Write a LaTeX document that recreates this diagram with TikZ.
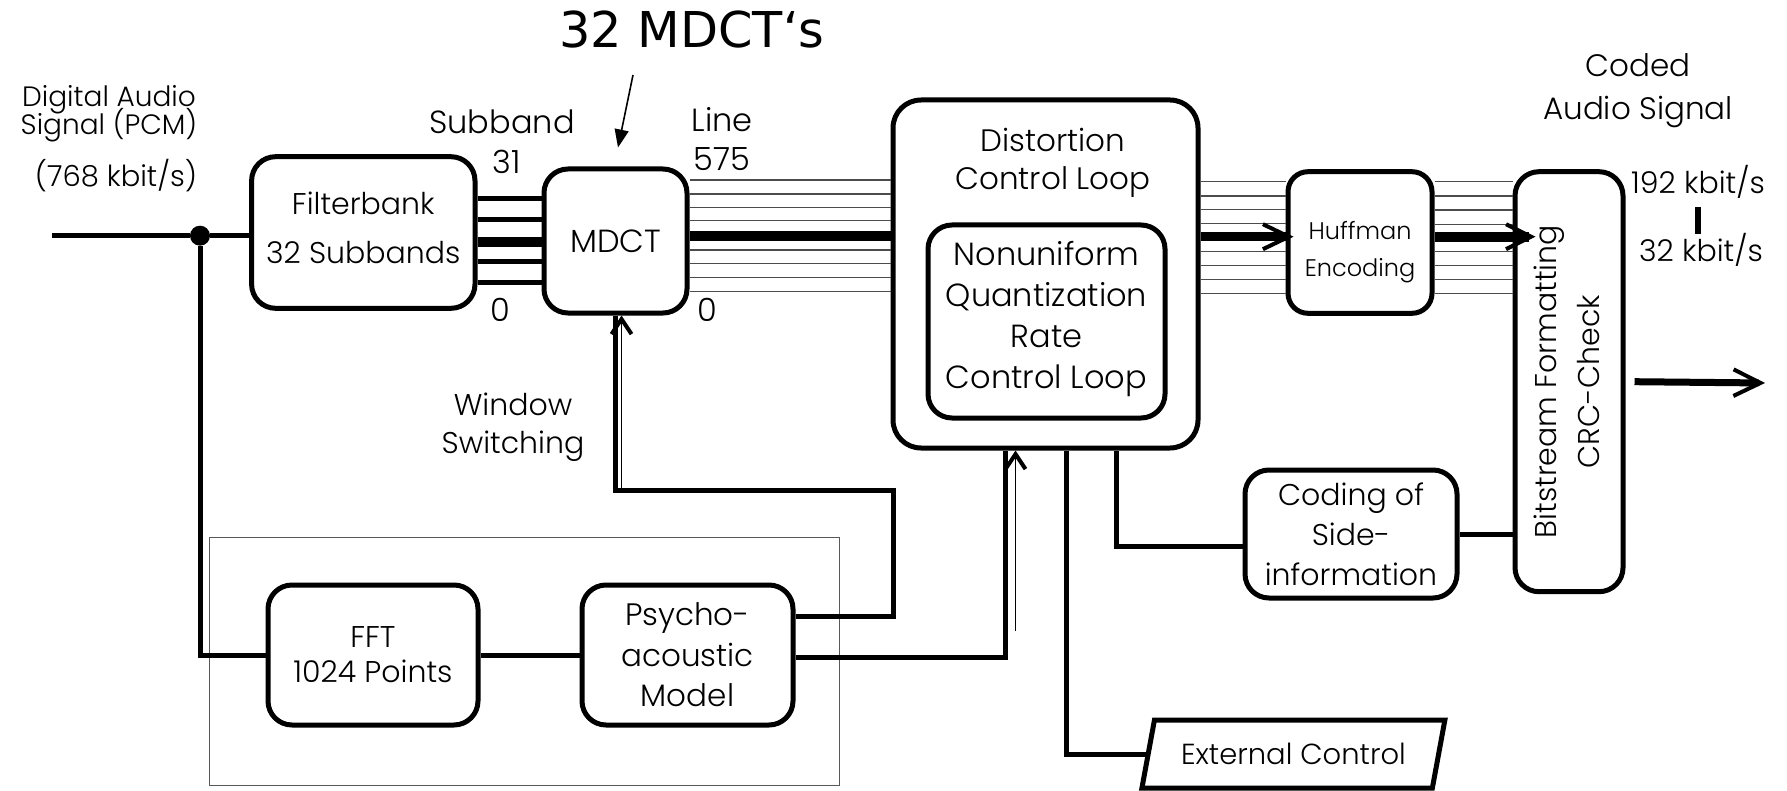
\documentclass[tikz,border=0pt]{standalone}
\usepackage{fontspec}
\setmainfont{Poppins Light}
\newfontfamily\titlefont{DejaVu Sans}
\usetikzlibrary{arrows.meta,calc,shapes.geometric}
\newcommand\fs[2]{\fontsize{#1}{#2}\selectfont\lineskiplimit=-30pt\relax}
% invisible struts that pad a text block below its last line or above its first
\newcommand\padb[1]{\rule[-#1]{0pt}{#1}}
\newcommand\padt[1]{\rule{0pt}{#1}}
\tikzset{
  box/.style={draw, line width=2.5pt, rounded corners=12pt, inner sep=0pt, align=center},
  wire/.style={line width=2.5pt},
  fine/.style={line width=0.75pt, black!70},
  lbl/.style={inner sep=0pt, align=center},
  feed/.style={line width=0.9pt, -{Straight Barb[length=7.5pt,width=10pt,line width=2pt]}},
  bus/.style={-{Straight Barb[length=#1,width=12.5pt,line width=2pt]}},
}
\begin{document}
\begin{tikzpicture}[x=0.5pt, y=-0.5pt]
\useasboundingbox (0,0) rectangle (1787,791);

% frame around FFT and psychoacoustic model
\node[draw=black!65, line width=0.7pt, minimum width=315pt, minimum height=124.2pt, inner sep=0pt] (pm) at (524.3,661.5) {};

% processing blocks
\node[box, minimum width=111.7pt, minimum height=75.8pt, font=\fs{15pt}{24.5pt}] (filt) at (363.3,232.5) {Filterbank\\32 Subbands\padb{5pt}};
\node[box, minimum width=71.5pt, minimum height=72pt, font=\fs{16pt}{19pt}] (mdct) at (615.5,241) {MDCT};
\node[box, rounded corners=14pt, minimum width=152.5pt, minimum height=174pt] (dist) at (1045.5,274) {};
\node[lbl, font=\fs{15.5pt}{19pt}] (dtxt) at (1053,163) {Distortion\\Control Loop};
\node[box, minimum width=118.5pt, minimum height=96.5pt, font=\fs{16pt}{20.5pt}] (quant) at (1046.5,321.5) {Nonuniform\\Quantization\\Rate\\Control Loop\padb{7pt}};
\node[box, rounded corners=10pt, minimum width=72pt, minimum height=70.8pt, font=\fs{12pt}{18.3pt}] (huff) at (1360,242.5) {\padt{19pt}Huffman\\Encoding};
\node[box, minimum width=54pt, minimum height=210pt] (bit) at (1569,381.7) {\rotatebox{90}{\fontsize{15pt}{21.5pt}\selectfont\begin{tabular}{@{}c@{}}Bitstream Formatting\\CRC-Check\end{tabular}}};
\node[box, minimum width=105pt, minimum height=70pt, font=\fs{15pt}{17.5pt}] (fft) at (373,655) {FFT\\1024 Points};
\node[box, minimum width=105.5pt, minimum height=70pt, font=\fs{15.5pt}{20.25pt}] (psy) at (687.5,655) {Psycho-\\acoustic\\Model};
\node[box, minimum width=106pt, minimum height=64pt, font=\fs{15pt}{20pt}] (side) at (1351,534) {Coding of\\Side-\\information};
\node[draw, line width=2.5pt, trapezium, trapezium left angle=65, trapezium right angle=115, trapezium stretches=true, minimum width=151.5pt, minimum height=34pt, inner sep=0pt, font=\fs{14.5pt}{17pt}] (ext) at (1293.4,754) {External Control};

% labels
\node[lbl, font=\titlefont\fs{24.7pt}{28pt}] (t32) at (692,30) {32 MDCT‘s};
\node[lbl, font=\fs{14pt}{14pt}] (pcmlbl) at (109,114) {Digital Audio\\Signal (PCM)};
\node[lbl, font=\fs{14.5pt}{17pt}] (pcmrate) at (116,176) {(768 kbit/s)};
\node[lbl, font=\fs{16pt}{19pt}] (sbl) at (502,122) {Subband};
\node[lbl, font=\fs{16pt}{19pt}] (sbhi) at (507,162) {31};
\node[lbl, font=\fs{16pt}{19pt}] (sblo) at (500,310) {0};
\node[lbl, font=\fs{16pt}{19pt}] (lnl) at (722,120) {Line};
\node[lbl, font=\fs{16pt}{19pt}] (lnhi) at (722,159) {575};
\node[lbl, font=\fs{16pt}{19pt}] (lnlo) at (707,310) {0};
\node[lbl, font=\fs{15pt}{19pt}] (wsw) at (513,427) {Window\\Switching};
\node[lbl, font=\fs{15.5pt}{21.5pt}] (coded) at (1638,91) {Coded\\Audio Signal};
\node[lbl, font=\fs{15pt}{17pt}] (r192) at (1698,182) {192 kbit/s};
\node[lbl, font=\fs{15pt}{17pt}] (r32) at (1701,250) {32 kbit/s};
\draw[line width=3pt] ([yshift=-4pt]r192.south) -- ++(0,26.6);

% pointer to the MDCT block
\coordinate (a32s) at (633,75);
\draw[line width=0.8pt, -{Triangle[length=9pt,width=7pt]}] (a32s) -- ($(mdct.north)+(2.5,-19)$);

% input and branch to the perceptual model
\coordinate (pcm) at (52,235.7);
\node[circle, fill, inner sep=0pt, minimum size=10pt] (jn) at (200,235.7) {};
\draw[wire] (pcm) -- (jn) -- (jn -| filt.west);
\draw[wire] (jn) |- (fft.west);
\draw[wire] (fft.east) -- (psy.west);

% 32 subband lines into the MDCT
\foreach \yy/\lw in {198.3/2.5pt, 220/2.5pt, 241.7/5pt, 261.7/2.5pt, 282.7/2.5pt}{
  \coordinate (h) at (0,\yy);
  \draw[line width=\lw] (filt.east |- h) -- (mdct.west |- h);
}

% 576 spectral lines into the quantization loop
\foreach \yy in {180,194,207.3,220.7,250,263.3,277.3,291.3}{
  \coordinate (h) at (0,\yy);
  \draw[fine] (mdct.east |- h) -- (dist.west |- h);
}
\coordinate (h) at (0,235.7);
\draw[line width=5pt] (mdct.east |- h) -- (dist.west |- h);

% quantized lines into the Huffman coder
\foreach \yy in {181.7,196,209.3,223.3,251.7,265.7,279.3,293.3}{
  \coordinate (h) at (0,\yy);
  \draw[fine] (dist.east |- h) -- (huff.west |- h);
}
\coordinate (h) at (0,236.7);
\draw[line width=4.5pt, bus=13pt] (dist.east |- h) -- ([xshift=4pt]huff.west |- h);

% coded lines into the bitstream formatter
\foreach \yy in {181.7,196,210,224.3,251.7,265.7,279.3,293.3}{
  \coordinate (h) at (0,\yy);
  \draw[fine] (huff.east |- h) -- (bit.west |- h);
}
\coordinate (h) at (0,236.7);
\draw[line width=5pt, bus=12.5pt] (huff.east |- h) -- ([xshift=11.5pt]bit.west |- h);

% coded output
\coordinate (sigout) at (1765,383);
\draw[line width=3.5pt, -{Straight Barb[length=13.5pt,width=13.3pt,line width=2pt]}] ([xshift=4.5pt]bit.east) -- (sigout);

% window switching control
\coordinate (wsbend) at (893.3,490.7);
\draw[wire] ($(psy.east)+(0,-38.3)$) -| (wsbend) -| (mdct.south);
\draw[feed] ($(mdct.south)+(6,174)$) -- ($(mdct.south)+(6,0)$);

% masking thresholds into the quantization loop
\draw[wire] ($(psy.east)+(0,2.7)$) -| ($(dist.south)+(-40.5,0)$);
\draw[feed] ($(dist.south)+(-30,180)$) -- ($(dist.south)+(-30,0)$);

% side information and external control
\draw[wire] ($(dist.south)+(71.2,0)$) |- ($(side.west)+(0,12.7)$);
\draw[wire] (side.east) -- (side.east -| bit.west);
\draw[wire] ($(dist.south)+(21.2,0)$) |- (ext.west);
\end{tikzpicture}
\end{document}
